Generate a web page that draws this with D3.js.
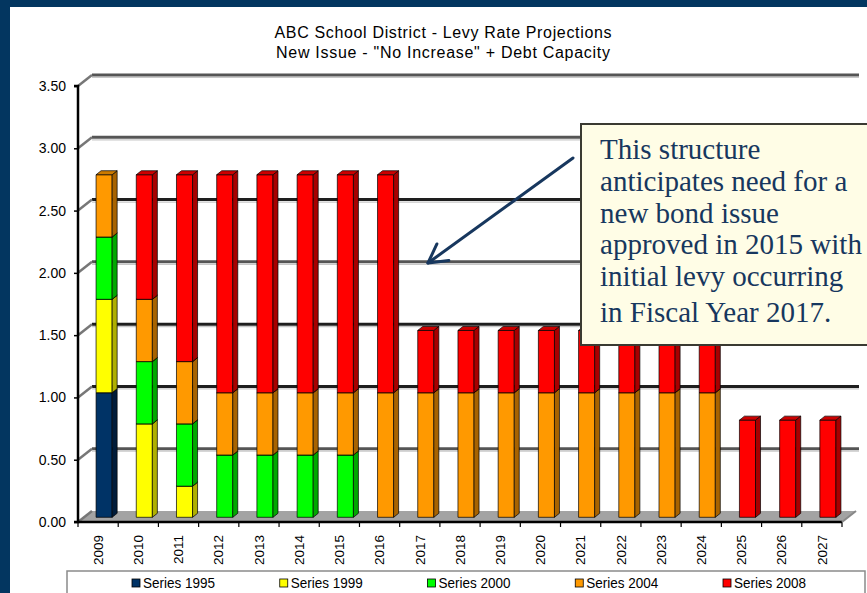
<!DOCTYPE html>
<html>
<head>
<meta charset="utf-8">
<script src="https://cdn.jsdelivr.net/npm/d3@7"></script>
<style>
  html, body { margin: 0; padding: 0; background: #fff; }
  svg { display: block; }
</style>
</head>
<body>
<svg id="chart" width="867" height="593"></svg>
<script>
// ---------------- data ----------------
const years = ["2009","2010","2011","2012","2013","2014","2015","2016","2017","2018",
               "2019","2020","2021","2022","2023","2024","2025","2026","2027"];
const seriesNames = ["Series 1995","Series 1999","Series 2000","Series 2004","Series 2008"];
const s1995 = [1.00,0,0,0,0,0,0,0,0,0,0,0,0,0,0,0,0,0,0];
const s1999 = [0.75,0.75,0.25,0,0,0,0,0,0,0,0,0,0,0,0,0,0,0,0];
const s2000 = [0.50,0.50,0.50,0.50,0.50,0.50,0.50,0,0,0,0,0,0,0,0,0,0,0,0];
const s2004 = [0.50,0.50,0.50,0.50,0.50,0.50,0.50,1.00,1.00,1.00,1.00,1.00,1.00,1.00,1.00,1.00,0,0,0];
const s2008 = [0,1.00,1.50,1.75,1.75,1.75,1.75,1.75,0.50,0.50,0.50,0.50,0.50,0.50,0.50,0.50,0.78,0.78,0.78];
const yTicks = [0,0.5,1.0,1.5,2.0,2.5,3.0,3.5];
const titleLines = ["ABC School District - Levy Rate Projections",
                    "New Issue - \"No Increase\" + Debt Capacity"];
const calloutLines = ["This structure","anticipates need for a","new bond issue",
                      "approved in 2015 with","initial levy occurring","in Fiscal Year 2017."];

// ---------------- styles ----------------
const frontCol = ["#003366","#FFFF00","#00FF00","#FF9900","#FF0000"];
const sideCol  = ["#001c3a","#b0b000","#00a800","#a86300","#a80000"];
const topCol   = ["#00254a","#d0d000","#00cc00","#cc7a00","#cc0000"];

const svg = d3.select("#chart");
const W = 867, H = 593;

// frame
svg.append("rect").attr("x",0).attr("y",0).attr("width",W).attr("height",H).attr("fill","#fff");
svg.append("rect").attr("x",0).attr("y",0).attr("width",W).attr("height",7).attr("fill","#033660");
svg.append("rect").attr("x",0).attr("y",0).attr("width",10).attr("height",H).attr("fill","#033660");

// scales
const x0 = 78, x1 = 842;
const x = d3.scaleBand().domain(years).range([x0, x1]).padding(0);
const y = d3.scaleLinear().domain([0, 3.5]).range([522, 86]);
const DX = 14, DY = -11;       // wall depth
const BX = 6, BY = -4.7;       // bar offset (mid-depth)
const SX = 5, SY = -4;         // bar depth

// title
const title = svg.append("g").attr("font-family","'Liberation Sans', Arial, sans-serif")
  .attr("font-size","16px").attr("fill","#000").attr("text-anchor","middle");
title.selectAll("text").data(titleLines).join("text")
  .attr("x", 443).attr("y", (d,i) => 38 + i*20)
  .attr("textLength", (d,i) => i === 0 ? 337 : 334)
  .attr("lengthAdjust","spacing")
  .text(d => d);

// floor
const floor = [[x0, y(0)], [x1, y(0)], [x1+DX, y(0)+DY], [x0+DX, y(0)+DY]];
svg.append("path").attr("d", "M" + floor.join("L") + "Z").attr("fill","#a3a3a3");

// back wall gridlines and left wall lines
const grid = svg.append("g");
grid.selectAll("line.back").data(yTicks.filter(v => v > 0)).join("line")
  .attr("class","back")
  .attr("x1", x0+DX).attr("x2", x1+DX+3)
  .attr("y1", v => y(v)+DY).attr("y2", v => y(v)+DY)
  .attr("stroke", (v) => [1.0,1.5,2.5].includes(v) ? "#1e1e1e" : "#555")
  .attr("stroke-width", 3);
grid.selectAll("line.shadow").data(yTicks.filter(v => v > 0)).join("line")
  .attr("class","shadow")
  .attr("x1", x0+DX).attr("x2", x1+DX+3)
  .attr("y1", v => y(v)+DY+2.5).attr("y2", v => y(v)+DY+2.5)
  .attr("stroke", "#c8c8c8").attr("stroke-width", 1.2);
grid.selectAll("line.side").data(yTicks).join("line")
  .attr("class","side")
  .attr("x1", x0).attr("x2", x0+DX)
  .attr("y1", v => y(v)).attr("y2", v => y(v)+DY)
  .attr("stroke","#777").attr("stroke-width", 2.5);

// bars
const rows = years.map((yr,i) => ({year: yr, v: [s1995[i], s1999[i], s2000[i], s2004[i], s2008[i]]}));
const stack = d3.stack().keys([0,1,2,3,4]).value((d,k) => d.v[k]);
const stacked = stack(rows);
const bw = x.bandwidth() * 0.4;
const bars = svg.append("g").attr("stroke","#000").attr("stroke-width",0.7).attr("stroke-linejoin","round");
years.forEach((yr, i) => {
  const xl = x(yr) + x.bandwidth()/2 + BX - bw/2;
  stacked.forEach((layer, k) => {
    const [a, b] = layer[i];
    if (b - a <= 0) return;
    const yb = y(a) + BY, yt = y(b) + BY;
    bars.append("rect").attr("x", xl).attr("y", yt).attr("width", bw).attr("height", yb - yt)
      .attr("fill", frontCol[k]);
    bars.append("path")
      .attr("d", `M${xl+bw},${yb}L${xl+bw+SX},${yb+SY}L${xl+bw+SX},${yt+SY}L${xl+bw},${yt}Z`)
      .attr("fill", sideCol[k]);
    bars.append("path")
      .attr("d", `M${xl},${yt}L${xl+SX},${yt+SY}L${xl+bw+SX},${yt+SY}L${xl+bw},${yt}Z`)
      .attr("fill", topCol[k]);
  });
});

// y axis
const yAxis = d3.axisLeft(y).tickValues(yTicks).tickFormat(d3.format(".2f")).tickSize(4).tickPadding(8);
const gy = svg.append("g").attr("transform", `translate(${x0},0)`).call(yAxis);
gy.select(".domain").attr("stroke","#000").attr("stroke-width",2.5).attr("d", `M-4,${y(3.5)}H0V${y(0)}H-4`);
gy.selectAll(".tick line").attr("stroke","#000").attr("stroke-width",1.5);
gy.selectAll("text").attr("font-family","'Liberation Sans', Arial, sans-serif")
  .attr("font-size","14px").attr("fill","#000");

// x axis
const xAxis = d3.axisBottom(x).tickSize(0).tickPadding(0);
const gx = svg.append("g").attr("transform", `translate(0,${y(0)})`).call(xAxis);
gx.select(".domain").attr("stroke","#000").attr("stroke-width",2.5).attr("d", `M${x0},0H${x1}`);
gx.selectAll("text")
  .attr("font-family","'Liberation Sans', Arial, sans-serif").attr("font-size","13.5px")
  .attr("fill","#000").attr("text-anchor","end")
  .attr("transform","rotate(-90)").attr("x",-13).attr("y",0).attr("dy","0.35em");
svg.append("g").selectAll("line").data(years.concat(["end"])).join("line")
  .attr("x1", (d,i) => x0 + i*x.step()).attr("x2", (d,i) => x0 + i*x.step())
  .attr("y1", y(0)).attr("y2", y(0)+5).attr("stroke","#000").attr("stroke-width",1.2);
// floor right edge
svg.append("line").attr("x1", x1).attr("y1", y(0)).attr("x2", x1+DX).attr("y2", y(0)+DY)
  .attr("stroke","#888").attr("stroke-width",2);

// legend
const leg = svg.append("g");
leg.append("rect").attr("x",67).attr("y",571).attr("width",798).attr("height",40)
  .attr("fill","#fff").attr("stroke","#8a8a8a").attr("stroke-width",1.5);
const li = leg.selectAll("g.item").data(seriesNames).join("g").attr("class","item")
  .attr("transform",(d,i) => `translate(${132 + i*147.75},0)`);
li.append("rect").attr("x",0).attr("y",579).attr("width",8).attr("height",8)
  .attr("fill",(d,i) => frontCol[i]).attr("stroke","#000").attr("stroke-width",0.8);
li.append("text").attr("x",11).attr("y",588).text(d => d)
  .attr("font-family","'Liberation Sans', Arial, sans-serif").attr("font-size","14px").attr("fill","#000")
  .attr("textLength",72).attr("lengthAdjust","spacingAndGlyphs");

// arrow
const ax1 = 573, ay1 = 158, ax2 = 428, ay2 = 263;
const ang = Math.atan2(ay1 - ay2, ax1 - ax2);
const arm = 21, spread = 29 * Math.PI/180;
const arrow = svg.append("g").attr("stroke","#17375E").attr("stroke-width",3).attr("fill","none")
  .attr("stroke-linecap","round").attr("stroke-linejoin","round");
arrow.append("line").attr("x1",ax1).attr("y1",ay1).attr("x2",ax2).attr("y2",ay2);
arrow.append("path").attr("d",
  `M${ax2 + arm*Math.cos(ang-spread)},${ay2 + arm*Math.sin(ang-spread)}L${ax2},${ay2}L${ax2 + arm*Math.cos(ang+spread)},${ay2 + arm*Math.sin(ang+spread)}`);

// callout
const co = svg.append("g");
co.append("rect").attr("x",581).attr("y",124).attr("width",320).attr("height",221)
  .attr("fill","#FFFDE6").attr("stroke","#3a3a32").attr("stroke-width",2);
const ct = co.append("g").attr("font-family","'Liberation Serif', 'Times New Roman', serif")
  .attr("fill","#17375E").attr("font-size","24px");
const baselines = [159, 191, 223, 254, 286, 322];
ct.selectAll("text").data(calloutLines).join("text")
  .attr("x",600).attr("y",(d,i) => baselines[i]).text(d => d);
// fit widest line to ~262px
const ref = ct.selectAll("text").nodes()[3];
const wNow = ref.getComputedTextLength();
ct.attr("font-size", (24 * 262 / wNow).toFixed(2) + "px");
</script>
</body>
</html>
